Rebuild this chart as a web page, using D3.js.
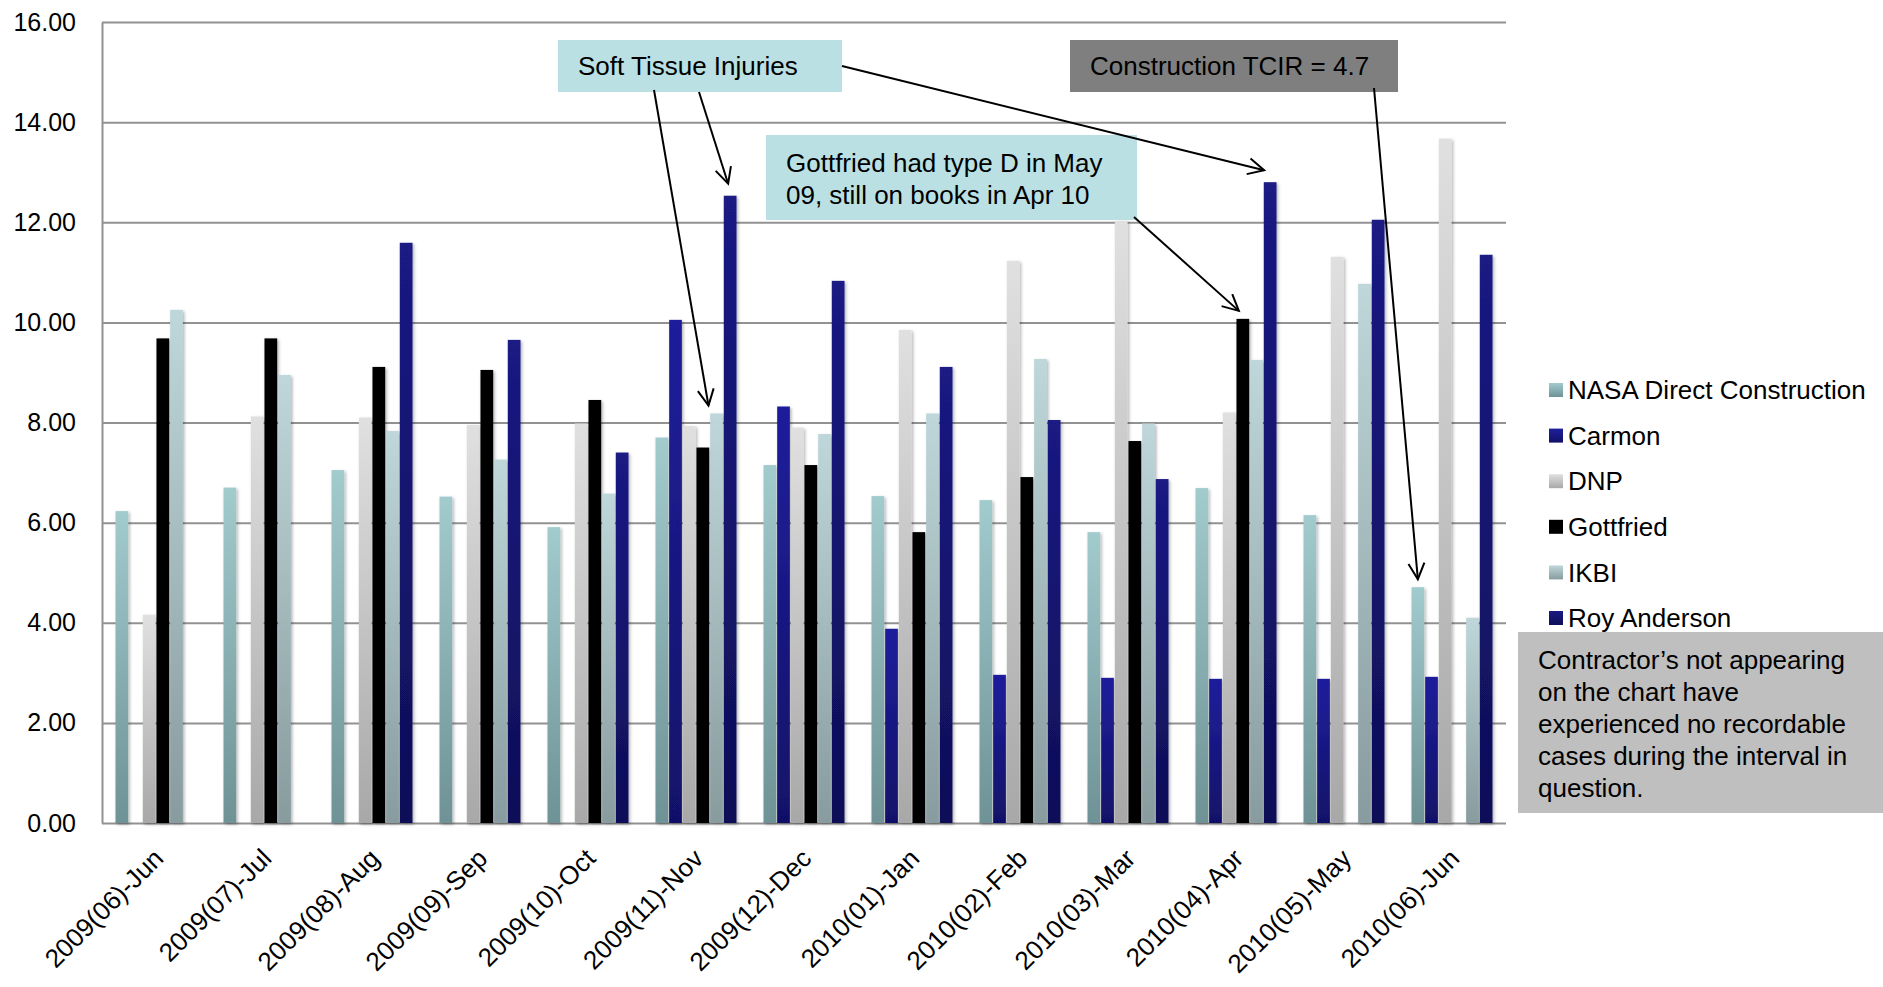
<!DOCTYPE html>
<html>
<head>
<meta charset="utf-8">
<script src="https://cdn.jsdelivr.net/npm/d3@7"></script>
<style>
  body { margin: 0; background: #fff; }
  svg { font-family: "Liberation Sans", Arial, sans-serif; }
</style>
</head>
<body>
<svg id="chart" width="1883" height="987"></svg>
<script>
const categories = ["2009(06)-Jun", "2009(07)-Jul", "2009(08)-Aug", "2009(09)-Sep", "2009(10)-Oct",
  "2009(11)-Nov", "2009(12)-Dec", "2010(01)-Jan", "2010(02)-Feb", "2010(03)-Mar",
  "2010(04)-Apr", "2010(05)-May", "2010(06)-Jun"];
const seriesNames = ["NASA Direct Construction", "Carmon", "DNP", "Gottfried", "IKBI", "Roy Anderson"];
const nasa      = [6.23, 6.70, 7.05, 6.52, 5.91, 7.70, 7.15, 6.53, 6.45, 5.81, 6.69, 6.15, 4.71];
const carmon    = [0, 0, 0, 0, 0, 10.05, 8.32, 3.88, 2.96, 2.90, 2.88, 2.88, 2.92];
const dnp       = [4.16, 8.12, 8.10, 7.95, 7.98, 7.93, 7.90, 9.85, 11.23, 12.03, 8.20, 11.31, 13.67];
const gottfried = [9.68, 9.68, 9.11, 9.05, 8.45, 7.50, 7.15, 5.81, 6.91, 7.63, 10.07, 0, 0];
const ikbi      = [10.25, 8.95, 7.83, 7.26, 6.58, 8.18, 7.77, 8.18, 9.27, 7.98, 9.25, 10.77, 4.10];
const roy       = [0, 0, 11.59, 9.65, 7.40, 12.53, 10.83, 9.11, 8.05, 6.87, 12.80, 12.05, 11.35];
const yTicks = [0, 2, 4, 6, 8, 10, 12, 14, 16];

const seriesValues = [nasa, carmon, dnp, gottfried, ikbi, roy];
// top / bottom colours of each series gradient
const gradColors = [
  ["#a2cbce", "#6e9296"],
  ["#1f1f9c", "#111168"],
  ["#e0e0e0", "#a8a8a8"],
  ["#000000", "#000000"],
  ["#bfd7da", "#889b9e"],
  ["#1a1a84", "#0f0f58"]
];

const svg = d3.select("#chart");
const margin = {left: 102, top: 22, right: 377, bottom: 164};
const width = 1883 - margin.left - margin.right;
const height = 987 - margin.top - margin.bottom;

const defs = svg.append("defs");
gradColors.forEach((c, i) => {
  const g = defs.append("linearGradient")
    .attr("id", "grad" + i)
    .attr("x1", 0).attr("y1", 0).attr("x2", 0).attr("y2", 1);
  g.append("stop").attr("offset", "0%").attr("stop-color", c[0]);
  g.append("stop").attr("offset", "100%").attr("stop-color", c[1]);
});
const shadow = defs.append("filter").attr("id", "shadow")
  .attr("x", "-50%").attr("y", "-5%").attr("width", "200%").attr("height", "110%");
shadow.append("feDropShadow").attr("dx", 1.5).attr("dy", 1.5)
  .attr("stdDeviation", 1.5).attr("flood-color", "#000").attr("flood-opacity", 0.3);

defs.append("marker")
  .attr("id", "arrow")
  .attr("markerUnits", "userSpaceOnUse")
  .attr("viewBox", "-20 -12 24 24")
  .attr("markerWidth", 24).attr("markerHeight", 24)
  .attr("refX", 0).attr("refY", 0)
  .attr("orient", "auto")
  .append("path")
  .attr("d", "M -16 -8 L 0 0 L -16 8")
  .attr("fill", "none").attr("stroke", "#000").attr("stroke-width", 2);

const g = svg.append("g").attr("transform", `translate(${margin.left},${margin.top})`);

const x0 = d3.scaleBand().domain(categories).range([0, width])
  .paddingInner(0.25).paddingOuter(0.125);
const x1 = d3.scaleBand().domain(d3.range(seriesNames.length)).range([0, x0.bandwidth()])
  .paddingInner(0.07);
const y = d3.scaleLinear().domain([0, 16]).range([height, 0]);

// gridlines + y axis
const yAxis = g.append("g")
  .call(d3.axisLeft(y).tickValues(yTicks).tickFormat(d3.format(".2f"))
    .tickSize(-width).tickSizeOuter(0).tickPadding(26));
yAxis.selectAll(".tick line").attr("stroke", "#929292").attr("stroke-width", 2);
yAxis.select(".domain").attr("stroke", "#929292").attr("stroke-width", 2);
yAxis.selectAll(".tick text").attr("font-size", 25).attr("fill", "#000")
  .attr("font-family", "Liberation Sans, Arial, sans-serif");

// bars
const groups = g.append("g").selectAll("g")
  .data(categories).enter().append("g")
  .attr("transform", d => `translate(${x0(d)},0)`);

groups.selectAll("rect")
  .data((d, ci) => seriesValues.map((vals, si) => ({si: si, v: vals[ci]})).filter(e => e.v > 0))
  .enter().append("rect")
  .attr("x", d => x1(d.si))
  .attr("y", d => y(d.v))
  .attr("width", x1.bandwidth())
  .attr("height", d => height - y(d.v))
  .attr("fill", d => `url(#grad${d.si})`)
  .attr("filter", "url(#shadow)");

// x axis labels
const xAxis = g.append("g")
  .attr("transform", `translate(0,${height})`)
  .call(d3.axisBottom(x0).tickSize(0).tickPadding(0));
xAxis.select(".domain").remove();
xAxis.selectAll(".tick text")
  .attr("font-size", 26).attr("fill", "#000")
  .attr("font-family", "Liberation Sans, Arial, sans-serif")
  .attr("text-anchor", "end")
  .attr("dy", null)
  .attr("transform", "translate(9,37) rotate(-45)");

// legend
const legend = svg.append("g").attr("transform", "translate(1549,390)");
const li = legend.selectAll("g").data(seriesNames).enter().append("g")
  .attr("transform", (d, i) => `translate(0,${i * 45.6})`);
li.append("rect").attr("x", 0).attr("y", -7).attr("width", 14).attr("height", 14)
  .attr("fill", (d, i) => `url(#grad${i})`);
li.append("text").attr("x", 19).attr("y", 0).attr("dy", "0.35em")
  .attr("font-size", 26).attr("fill", "#000").text(d => d);

// note box
const note = svg.append("g");
note.append("rect").attr("x", 1518).attr("y", 632).attr("width", 365).attr("height", 181)
  .attr("fill", "#bfbfbf");
const noteLines = ["Contractor\u2019s not appearing", "on the chart have",
  "experienced no recordable", "cases during the interval in", "question."];
note.selectAll("text").data(noteLines).enter().append("text")
  .attr("x", 1538).attr("y", (d, i) => 660 + i * 32).attr("dy", "0.35em")
  .attr("font-size", 26).attr("fill", "#000").text(d => d);

// annotation boxes
function box(x, yy, w, h, fill, lines, tx, ty, lh) {
  svg.append("rect").attr("x", x).attr("y", yy).attr("width", w).attr("height", h).attr("fill", fill);
  lines.forEach((t, i) => {
    svg.append("text").attr("x", tx).attr("y", ty + i * lh).attr("dy", "0.35em")
      .attr("font-size", 26).attr("fill", "#000").text(t);
  });
}
box(558, 40, 284, 52, "#bae0e3", ["Soft Tissue Injuries"], 578, 66, 0);
box(1070, 40, 328, 52, "#7f7f7f", ["Construction TCIR = 4.7"], 1090, 66, 0);
box(766, 135, 371, 85, "#bae0e3", ["Gottfried had type D in May", "09, still on books in Apr 10"], 786, 163, 32);

// arrows: from box edge to the bar top they point to
const px = (ci, si) => margin.left + x0(categories[ci]) + x1(si) + x1.bandwidth() / 2;
const py = (ci, si) => margin.top + y(seriesValues[si][ci]);
const arrows = [
  [654, 90, px(5, 4) - 8, py(5, 4) - 8],
  [699, 92, px(5, 5) - 2, py(5, 5) - 12],
  [842, 66, px(10, 5) - 6, py(10, 5) - 12],
  [1134, 217, px(10, 3) - 4, py(10, 3) - 8],
  [1374, 88, px(12, 0), py(12, 0) - 8]
];
svg.append("g").selectAll("line").data(arrows).enter().append("line")
  .attr("x1", d => d[0]).attr("y1", d => d[1])
  .attr("x2", d => d[2]).attr("y2", d => d[3])
  .attr("stroke", "#000").attr("stroke-width", 2)
  .attr("marker-end", "url(#arrow)");
</script>
</body>
</html>
